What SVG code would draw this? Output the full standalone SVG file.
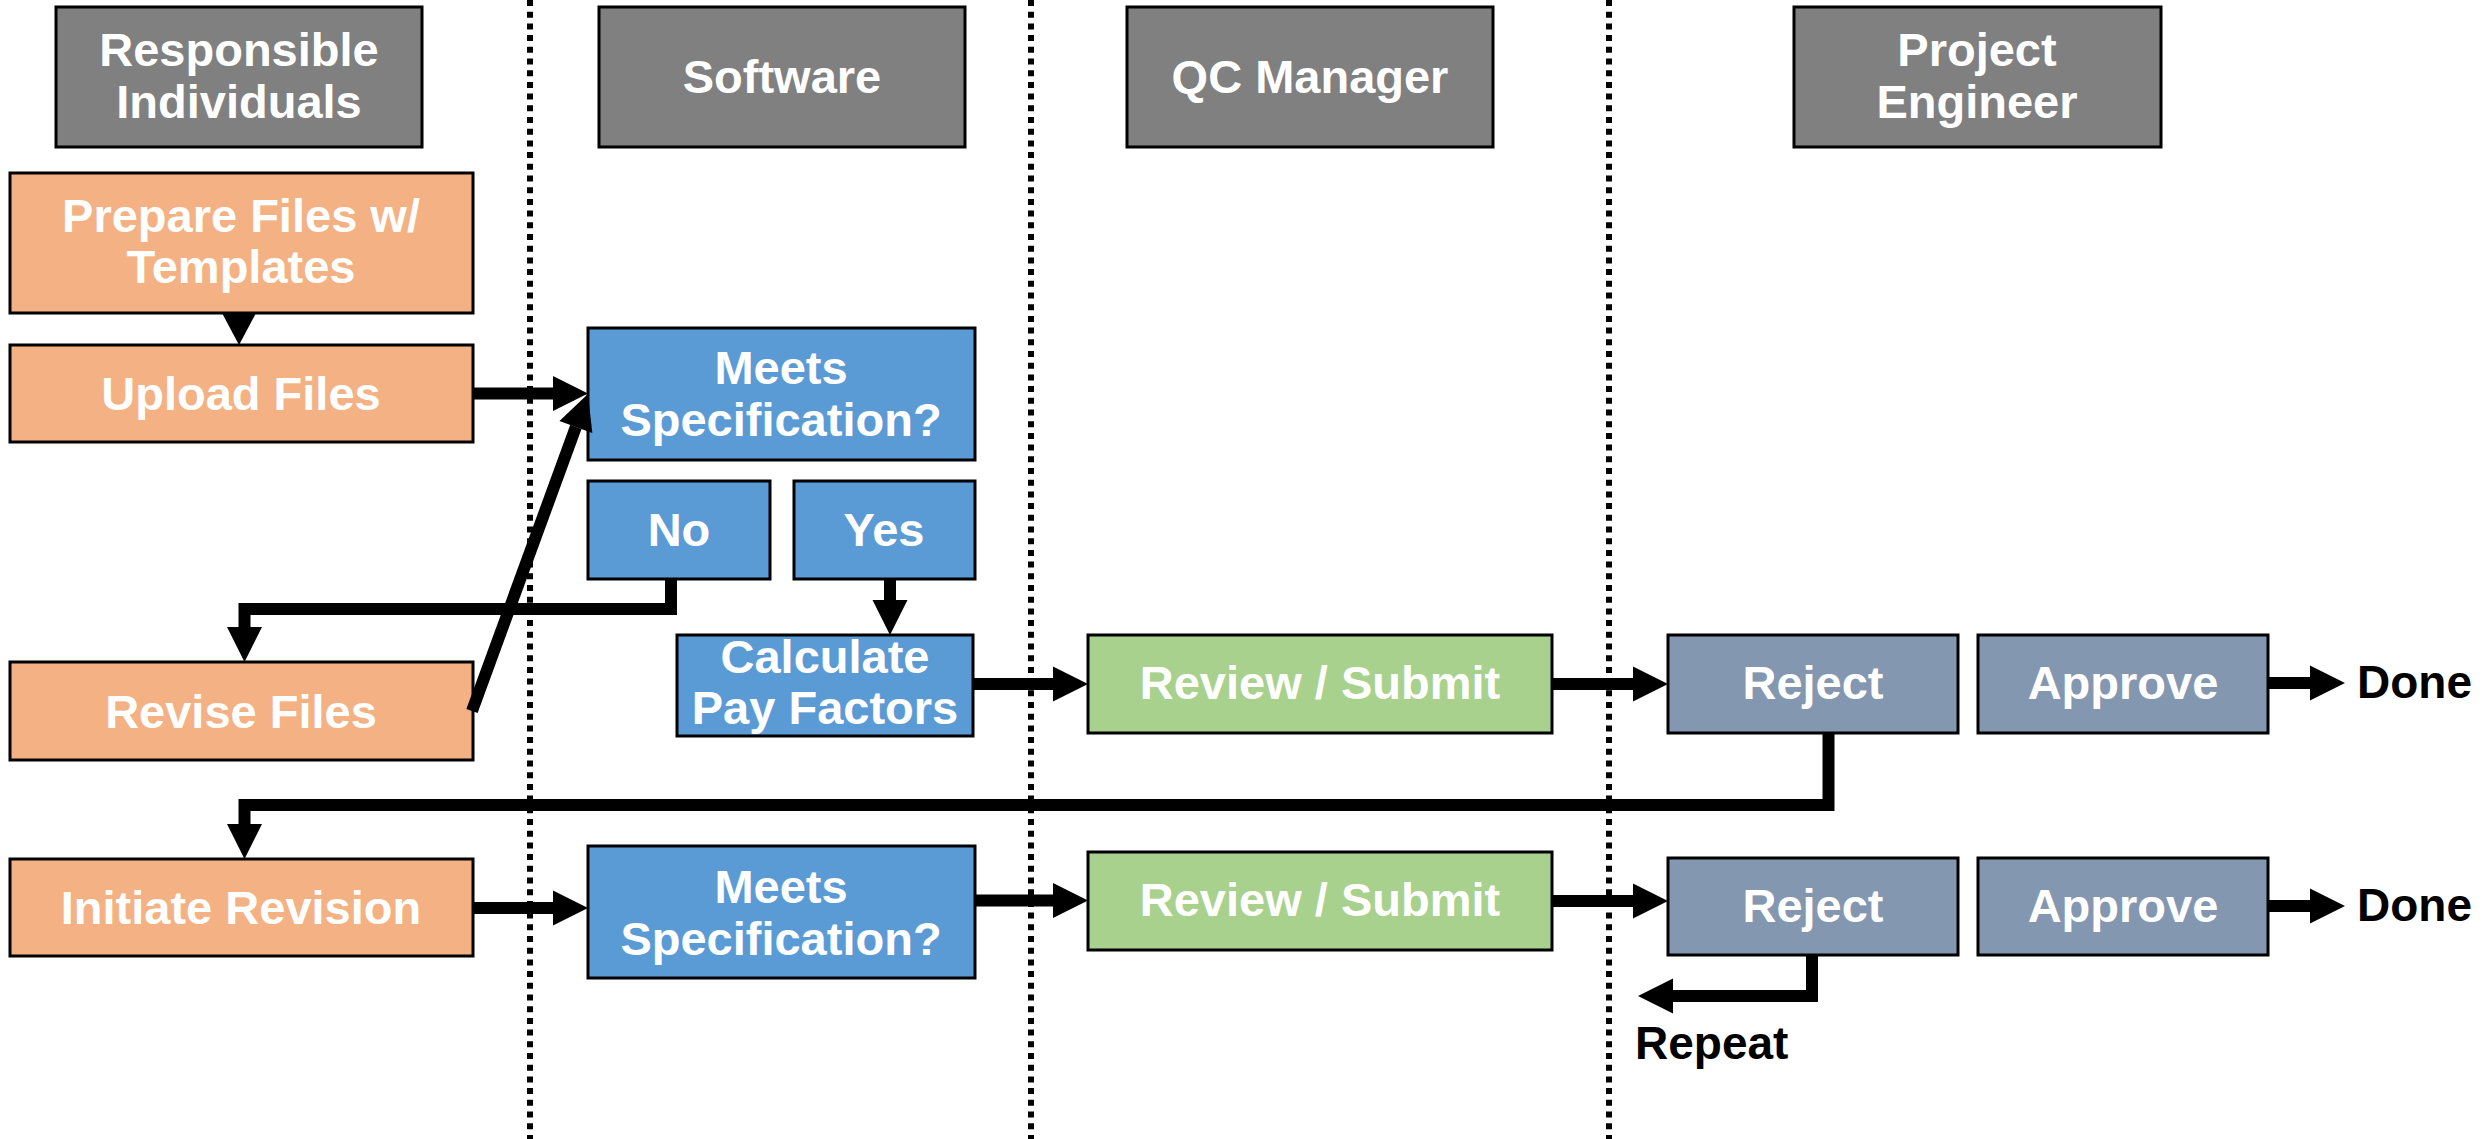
<svg xmlns="http://www.w3.org/2000/svg" width="2483" height="1139" viewBox="0 0 2483 1139">
  <style>
    .box { stroke: #000; stroke-width: 3; }
    .hdr { fill: #808080; }
    .ri { fill: #F4B183; }
    .sw { fill: #5B9BD5; }
    .qc { fill: #A9D18E; }
    .pe { fill: #8497B0; }
    .t { font-family: "Liberation Sans", Arial, sans-serif; font-weight: bold; font-size: 47px; fill: #fff; text-anchor: middle; }
    .lbl { font-family: "Liberation Sans", Arial, sans-serif; font-weight: bold; font-size: 46px; fill: #000; }
    .lane { stroke: #000; stroke-width: 6; stroke-dasharray: 6 5.7; fill: none; }
    .wire { stroke: #000; stroke-width: 12; fill: none; stroke-linejoin: miter; marker-end: url(#head); }
  </style>
  <defs>
    <marker id="head" markerUnits="userSpaceOnUse" markerWidth="36" markerHeight="36" refX="0" refY="17.5" orient="auto" viewBox="0 0 36 35" overflow="visible">
      <path d="M0,0 L35,17.5 L0,35 z" fill="#000"/>
    </marker>
  </defs>
  <rect width="2483" height="1139" fill="#fff"/>

  <!-- swimlane separators -->
  <g id="lanes">
    <line class="lane" x1="530" y1="0" x2="530" y2="1139"/>
    <line class="lane" x1="1031" y1="0" x2="1031" y2="1139"/>
    <line class="lane" x1="1609" y1="0" x2="1609" y2="1139"/>
  </g>

  <!-- lane headers -->
  <g id="hdr-responsible">
    <rect class="box hdr" x="56" y="7" width="366" height="140"/>
    <text class="t" x="239" y="66">Responsible</text>
    <text class="t" x="239" y="118">Individuals</text>
  </g>
  <g id="hdr-software">
    <rect class="box hdr" x="599" y="7" width="366" height="140"/>
    <text class="t" x="782" y="93">Software</text>
  </g>
  <g id="hdr-qc">
    <rect class="box hdr" x="1127" y="7" width="366" height="140"/>
    <text class="t" x="1310" y="93">QC Manager</text>
  </g>
  <g id="hdr-pe">
    <rect class="box hdr" x="1794" y="7" width="367" height="140"/>
    <text class="t" x="1977" y="66">Project</text>
    <text class="t" x="1977" y="118">Engineer</text>
  </g>

  <!-- process steps -->
  <g id="prepare">
    <rect class="box ri" x="10" y="173" width="463" height="140"/>
    <text class="t" x="241" y="232">Prepare Files w/</text>
    <text class="t" x="241" y="283">Templates</text>
  </g>
  <g id="upload">
    <rect class="box ri" x="10" y="345" width="463" height="97"/>
    <text class="t" x="241" y="410">Upload Files</text>
  </g>
  <g id="revise">
    <rect class="box ri" x="10" y="662" width="463" height="98"/>
    <text class="t" x="241" y="728">Revise Files</text>
  </g>
  <g id="initiate">
    <rect class="box ri" x="10" y="859" width="463" height="97"/>
    <text class="t" x="241" y="924">Initiate Revision</text>
  </g>
  <g id="meets1">
    <rect class="box sw" x="588" y="328" width="387" height="132"/>
    <text class="t" x="781" y="384">Meets</text>
    <text class="t" x="781" y="436">Specification?</text>
  </g>
  <g id="no">
    <rect class="box sw" x="588" y="481" width="182" height="98"/>
    <text class="t" x="679" y="546">No</text>
  </g>
  <g id="yes">
    <rect class="box sw" x="794" y="481" width="181" height="98"/>
    <text class="t" x="884" y="546">Yes</text>
  </g>
  <g id="calculate">
    <rect class="box sw" x="677" y="635" width="296" height="101"/>
    <text class="t" x="825" y="673">Calculate</text>
    <text class="t" x="825" y="724">Pay Factors</text>
  </g>
  <g id="meets2">
    <rect class="box sw" x="588" y="846" width="387" height="132"/>
    <text class="t" x="781" y="903">Meets</text>
    <text class="t" x="781" y="955">Specification?</text>
  </g>
  <g id="review1">
    <rect class="box qc" x="1088" y="635" width="464" height="98"/>
    <text class="t" x="1320" y="699">Review / Submit</text>
  </g>
  <g id="review2">
    <rect class="box qc" x="1088" y="852" width="464" height="98"/>
    <text class="t" x="1320" y="916">Review / Submit</text>
  </g>
  <g id="reject1">
    <rect class="box pe" x="1668" y="635" width="290" height="98"/>
    <text class="t" x="1813" y="699">Reject</text>
  </g>
  <g id="approve1">
    <rect class="box pe" x="1978" y="635" width="290" height="98"/>
    <text class="t" x="2123" y="699">Approve</text>
  </g>
  <g id="reject2">
    <rect class="box pe" x="1668" y="858" width="290" height="97"/>
    <text class="t" x="1813" y="922">Reject</text>
  </g>
  <g id="approve2">
    <rect class="box pe" x="1978" y="858" width="290" height="97"/>
    <text class="t" x="2123" y="922">Approve</text>
  </g>
  <g id="done1"><text class="lbl" x="2357" y="698">Done</text></g>
  <g id="done2"><text class="lbl" x="2357" y="921">Done</text></g>
  <g id="repeat"><text class="lbl" x="1635" y="1059">Repeat</text></g>

  <!-- connectors: each path stops at the arrowhead base -->
  <g id="connectors">
    <polygon points="222,313 256,313 239,345" fill="#000"/>
    <path class="wire" d="M473,393.5 L553,393.5"/>
    <path class="wire" d="M472,711 L575.9,426.9"/>
    <path class="wire" d="M671,579 L671,609 L244.5,609 L244.5,627"/>
    <path class="wire" d="M890,579 L890,600"/>
    <path class="wire" d="M973,684 L1053,684"/>
    <path class="wire" d="M1552,684 L1633,684"/>
    <path class="wire" d="M2268,683 L2310,683"/>
    <path class="wire" d="M1828.5,733 L1828.5,805 L244.5,805 L244.5,824"/>
    <path class="wire" d="M473,908 L553,908"/>
    <path class="wire" d="M975,900.5 L1053,900.5"/>
    <path class="wire" d="M1552,901 L1633,901"/>
    <path class="wire" d="M2268,906 L2310,906"/>
    <path class="wire" d="M1812,955 L1812,996 L1673,996"/>
  </g>
</svg>
